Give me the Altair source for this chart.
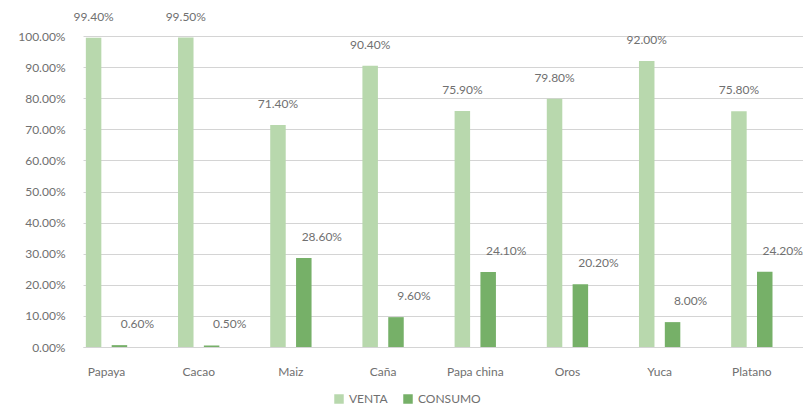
import altair as alt
import pandas as pd

categorias = ["Papaya", "Cacao", "Maiz", "Caña", "Papa china", "Oros", "Yuca", "Platano"]
venta = [0.994, 0.995, 0.714, 0.904, 0.759, 0.798, 0.920, 0.758]
consumo = [0.006, 0.005, 0.286, 0.096, 0.241, 0.202, 0.080, 0.242]
series = ["VENTA", "CONSUMO"]
colores = ["#b8d8ad", "#76b068"]

rows = []
for c, v, k in zip(categorias, venta, consumo):
    rows.append({"cat": c, "serie": "VENTA", "val": v})
    rows.append({"cat": c, "serie": "CONSUMO", "val": k})
df = pd.DataFrame(rows)

FONT = "Lato"
GRAY = "#707070"

x = alt.X("cat:N", sort=categorias, title=None,
          scale=alt.Scale(paddingInner=0.49, paddingOuter=0.15, align=0),
          axis=alt.Axis(labelAngle=0, labelPadding=19, ticks=False, domain=True,
                        domainColor="#d4d4d4", labelFont=FONT, labelFontSize=12,
                        labelColor=GRAY, grid=False))
xo = alt.XOffset("serie:N", sort=series,
                 scale=alt.Scale(paddingInner=0.4, paddingOuter=0.11))
y = alt.Y("val:Q", title=None,
          scale=alt.Scale(domain=[0, 1], nice=False),
          axis=alt.Axis(format=".2%", values=[i / 10 for i in range(11)],
                        ticks=False, domain=False, labelPadding=18,
                        labelFont=FONT, labelFontSize=12, labelColor=GRAY,
                        gridColor="#d4d4d4", gridWidth=1))

base = alt.Chart(df)

bars = base.mark_bar().encode(
    x=x, xOffset=xo, y=y,
    color=alt.Color("serie:N", sort=series,
                    scale=alt.Scale(domain=series, range=colores),
                    legend=alt.Legend(title=None, orient="none", direction="horizontal",
                                      legendX=250, legendY=357, symbolType="square",
                                      symbolSize=90, labelFont=FONT, labelFontSize=12,
                                      labelColor=GRAY, columnPadding=14,
                                      symbolStrokeWidth=0)),
)

txt_v = base.transform_filter(alt.datum.serie == "VENTA").mark_text(
    font=FONT, fontSize=12, color=GRAY, baseline="middle", dy=-21
).encode(x=x, xOffset=xo, y=y, text=alt.Text("val:Q", format=".2%"))

txt_c = base.transform_filter(alt.datum.serie == "CONSUMO").mark_text(
    font=FONT, fontSize=12, color=GRAY, baseline="middle", dy=-21, dx=18
).encode(x=x, xOffset=xo, y=y, text=alt.Text("val:Q", format=".2%"))

chart = alt.layer(bars, txt_v, txt_c).properties(
    width=720, height=311,
    autosize=alt.AutoSizeParams(type="none"),
    padding={"left": 75, "top": 28, "right": 0, "bottom": 64},
).configure_view(stroke=None)

chart.save("out.html", embed_options={"renderer": "svg", "actions": False})
